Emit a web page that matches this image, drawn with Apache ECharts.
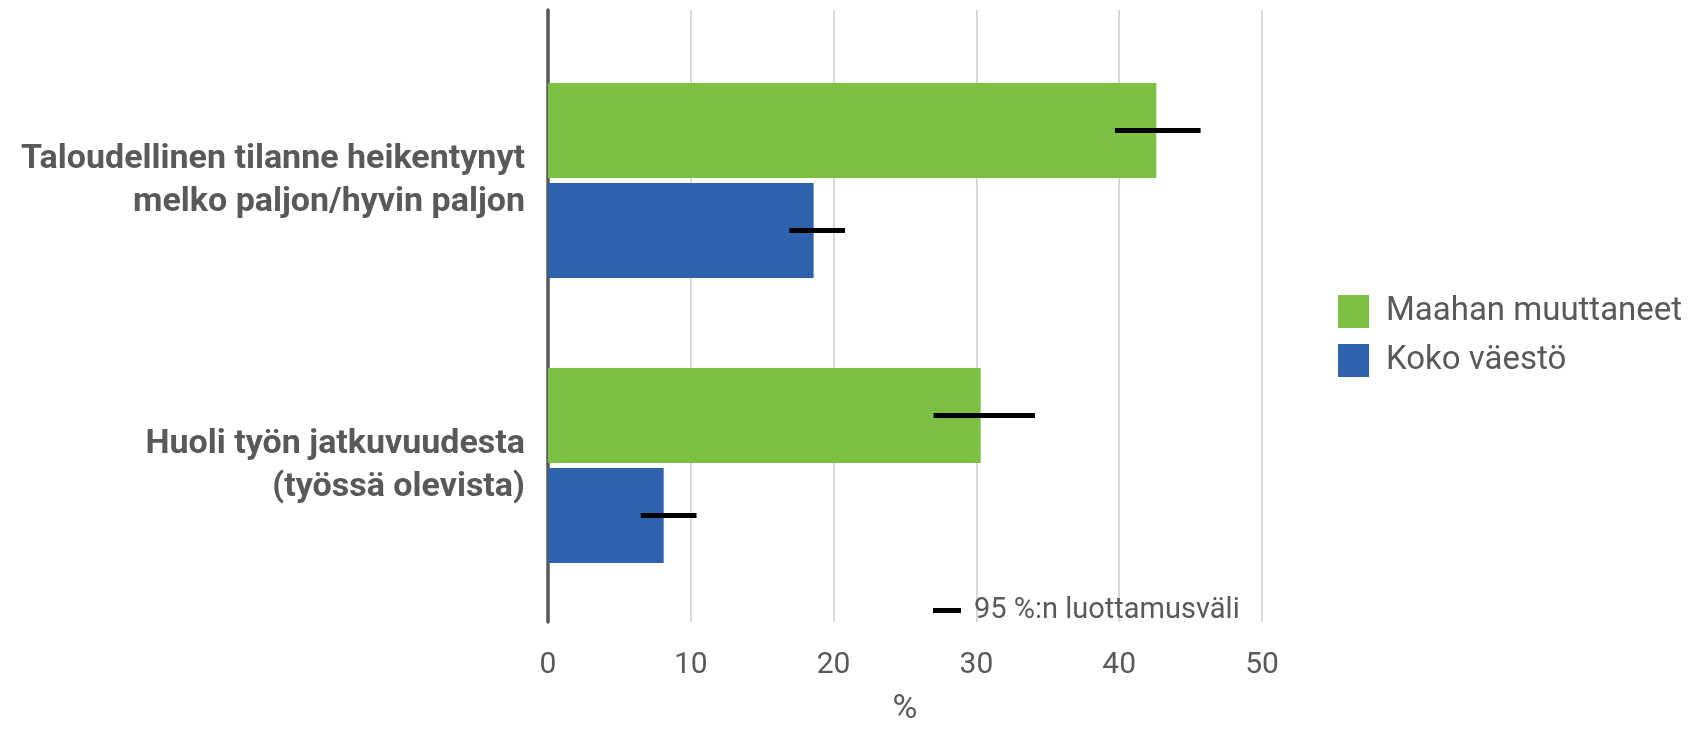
<!DOCTYPE html>
<html>
<head>
<meta charset="utf-8">
<script src="https://cdn.jsdelivr.net/npm/echarts@6/dist/echarts.min.js"></script>
<style>
  html, body { margin: 0; padding: 0; background: #fff; }
  #chart { width: 1688px; height: 731px; }
</style>
</head>
<body>
<div id="chart"></div>
<script>
// tiedot
const categories = [
  'Taloudellinen tilanne heikentynyt\nmelko paljon/hyvin paljon',
  'Huoli työn jatkuvuudesta\n(työssä olevista)'
];
const seriesNames = ['Maahan muuttaneet', 'Koko väestö'];
const immigrants = [42.6, 30.3];
const immigrantsLow = [39.7, 27.0];
const immigrantsHigh = [45.7, 34.1];
const population = [18.6, 8.1];
const populationLow = [16.9, 6.5];
const populationHigh = [20.8, 10.4];
const ciName = '95 %:n luottamusväli';
const xMin = 0, xMax = 50, xStep = 10;

const GREEN = '#7cc144';
const BLUE = '#2e62ac';
const TEXT = '#595959';
const FONT = 'Roboto, "Noto Sans", sans-serif';

// luottamusvälit: [ala, ylä, luokka, sarja]
const ciData = [];
categories.forEach((c, i) => {
  ciData.push([immigrantsLow[i], immigrantsHigh[i], i, 0]);
  ciData.push([populationLow[i], populationHigh[i], i, 1]);
});

const BAR_W = 0.334;
const BAR_GAP = 0.05;

const chart = echarts.init(document.getElementById('chart'));

const option = {
  animation: false,
  backgroundColor: '#fff',
  textStyle: { fontFamily: FONT },
  grid: [
    { left: 548, right: 426, top: 10, height: 624 },
    { left: 548, right: 426, top: 38, height: 570 }
  ],
  xAxis: [
    {
      gridIndex: 0, type: 'value', min: xMin, max: xMax, interval: xStep,
      axisLine: { show: false }, axisTick: { show: false },
      splitLine: { show: true, lineStyle: { color: '#d9d9d9', width: 2 } },
      axisLabel: { color: TEXT, fontSize: 30, fontFamily: FONT, margin: 28 },
      name: '%', nameLocation: 'middle', nameGap: 70,
      nameTextStyle: { color: TEXT, fontSize: 34, fontFamily: FONT }
    },
    {
      gridIndex: 1, type: 'value', min: xMin, max: xMax, interval: xStep,
      show: false
    }
  ],
  yAxis: [
    {
      gridIndex: 0, type: 'value', min: 0, max: 1,
      axisLine: { show: true, lineStyle: { color: TEXT, width: 3.5 } },
      axisTick: { show: false }, axisLabel: { show: false },
      splitLine: { show: false }
    },
    {
      gridIndex: 1, type: 'category', data: categories, inverse: true,
      axisLine: { show: false }, axisTick: { show: false },
      splitLine: { show: false },
      axisLabel: {
        color: TEXT, fontSize: 34, fontWeight: 'bold', fontFamily: FONT,
        lineHeight: 43, margin: 23, align: 'right'
      }
    }
  ],
  legend: [
    {
      data: seriesNames,
      orient: 'vertical', left: 1333, top: 290,
      itemWidth: 31, itemHeight: 33, itemGap: 16,
      icon: 'rect',
      textStyle: { color: TEXT, fontSize: 33, fontFamily: FONT, padding: [0, 0, 0, 12] }
    },
    {
      data: [{ name: ciName, icon: 'rect' }],
      left: 928, top: 591,
      itemWidth: 28, itemHeight: 5,
      textStyle: { color: TEXT, fontSize: 29, fontFamily: FONT, padding: [0, 0, 0, 8] }
    }
  ],
  series: [
    {
      name: seriesNames[0], type: 'bar', xAxisIndex: 1, yAxisIndex: 1,
      data: immigrants, barWidth: (BAR_W * 100) + '%', barGap: (BAR_GAP * 100) + '%',
      itemStyle: { color: GREEN }
    },
    {
      name: seriesNames[1], type: 'bar', xAxisIndex: 1, yAxisIndex: 1,
      data: population, barWidth: (BAR_W * 100) + '%', barGap: (BAR_GAP * 100) + '%',
      itemStyle: { color: BLUE }
    },
    {
      name: ciName, type: 'custom', xAxisIndex: 1, yAxisIndex: 1,
      data: ciData,
      encode: { x: [0, 1], y: 2 },
      itemStyle: { color: '#000' },
      z: 5,
      renderItem: function (params, api) {
        const cat = api.value(2);
        const p1 = api.coord([api.value(0), cat]);
        const p2 = api.coord([api.value(1), cat]);
        const band = api.size([0, 1])[1];
        const w = band * BAR_W;
        const off = (api.value(3) === 0 ? -1 : 1) * (w + w * BAR_GAP) / 2;
        return {
          type: 'line',
          shape: { x1: p1[0], y1: p1[1] + off, x2: p2[0], y2: p2[1] + off },
          style: { stroke: '#000', lineWidth: 5 }
        };
      }
    }
  ]
};

chart.setOption(option);
window.addEventListener('resize', () => chart.resize());
</script>
</body>
</html>
